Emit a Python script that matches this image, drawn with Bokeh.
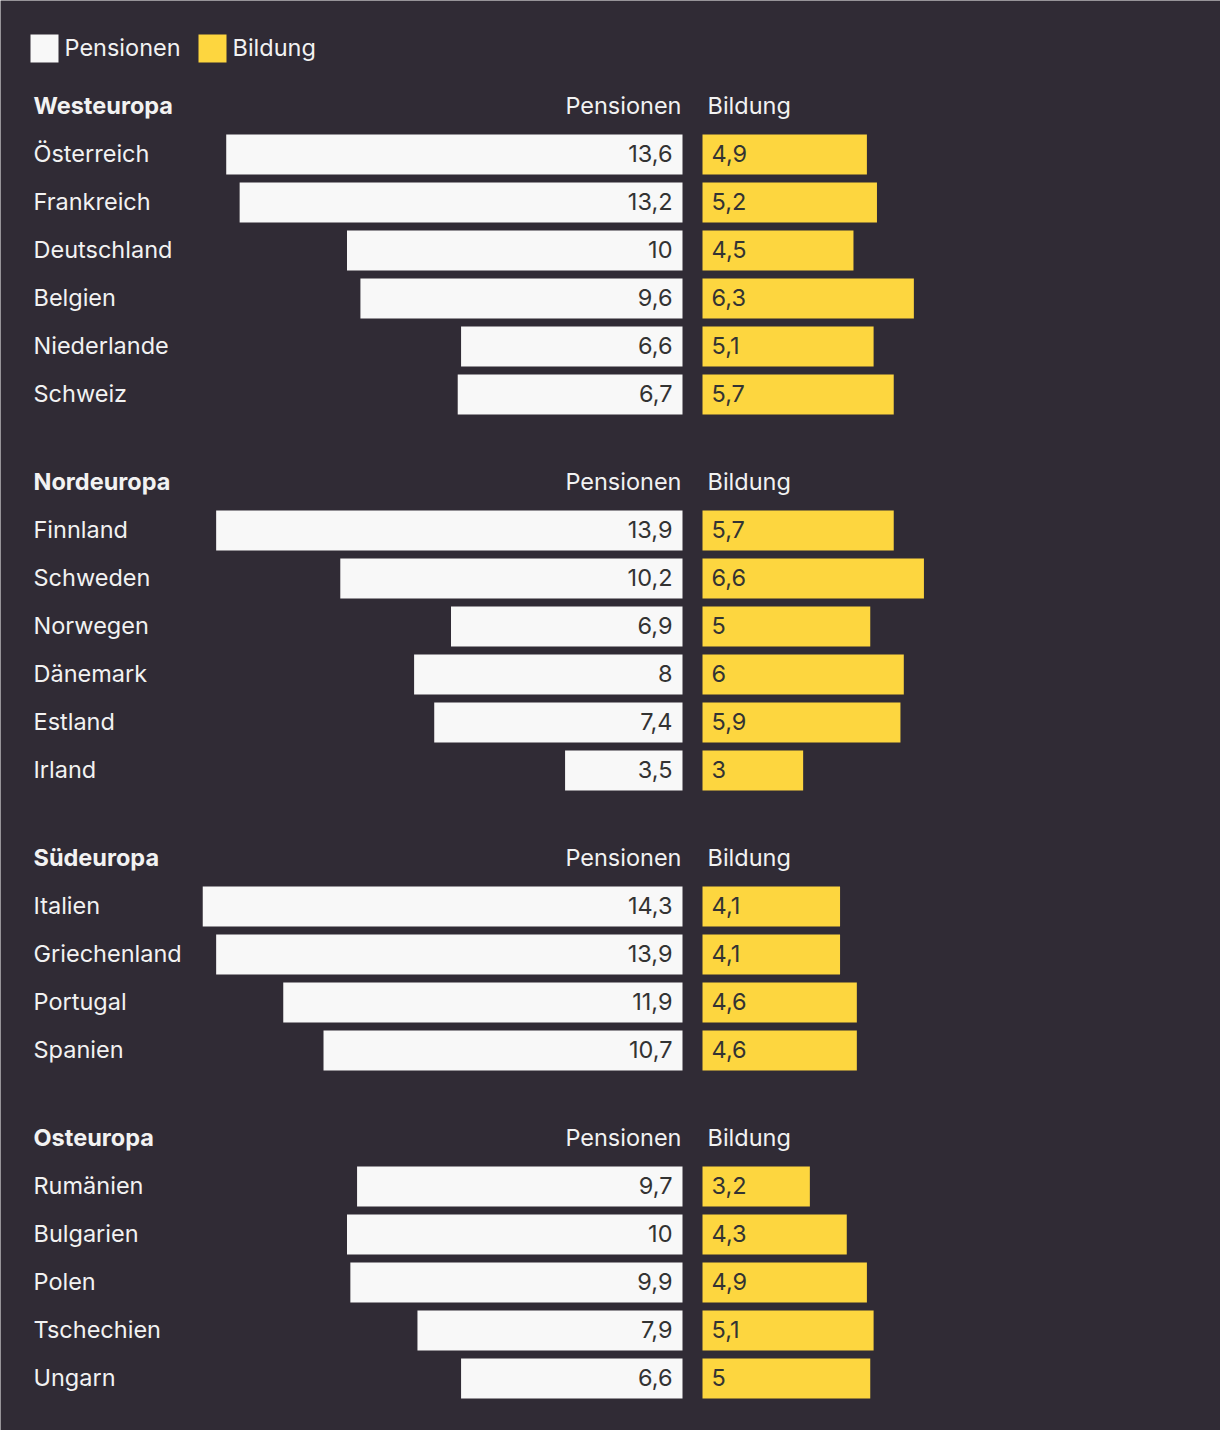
from bokeh.plotting import figure
from bokeh.models import Range1d, ColumnDataSource
from bokeh.core.properties import value
from bokeh.embed import file_html
from bokeh.resources import INLINE

# ---- data ----
groups = ["Westeuropa", "Nordeuropa", "Südeuropa", "Osteuropa"]
west_countries = ["Österreich", "Frankreich", "Deutschland", "Belgien", "Niederlande", "Schweiz"]
west_pension = [13.6, 13.2, 10, 9.6, 6.6, 6.7]
west_bildung = [4.9, 5.2, 4.5, 6.3, 5.1, 5.7]
nord_countries = ["Finnland", "Schweden", "Norwegen", "Dänemark", "Estland", "Irland"]
nord_pension = [13.9, 10.2, 6.9, 8, 7.4, 3.5]
nord_bildung = [5.7, 6.6, 5, 6, 5.9, 3]
sued_countries = ["Italien", "Griechenland", "Portugal", "Spanien"]
sued_pension = [14.3, 13.9, 11.9, 10.7]
sued_bildung = [4.1, 4.1, 4.6, 4.6]
ost_countries = ["Rumänien", "Bulgarien", "Polen", "Tschechien", "Ungarn"]
ost_pension = [9.7, 10, 9.9, 7.9, 6.6]
ost_bildung = [3.2, 4.3, 4.9, 5.1, 5]
series_labels = ["Pensionen", "Bildung"]

group_data = [
    (west_countries, west_pension, west_bildung),
    (nord_countries, nord_pension, nord_bildung),
    (sued_countries, sued_pension, sued_bildung),
    (ost_countries, ost_pension, ost_bildung),
]

# ---- style / layout ----
W, H = 1220, 1430
BG = "#302b35"
WHITE = "#f8f8f8"
YELLOW = "#fdd63f"
TXT = "#f2f2f2"
DARK = "#333333"
FONT = "Inter"
FS = "23.5px"
S = 33.55         # px per unit
CX = 692          # canvas px of centre of the gap
G = 10 / S        # half gap in units
ROW = 48
BAR_H = 40
YO = -1           # text vertical nudge (screen px)

def X(px):
    return (px - CX) / S

p = figure(width=W, height=H, output_backend="svg", toolbar_location=None,
           x_range=Range1d(X(0), X(W)), y_range=Range1d(H, 0),
           min_border=0, background_fill_color=BG, border_fill_color=BG,
           outline_line_color=None)
p.xaxis.visible = False
p.yaxis.visible = False
p.xgrid.visible = False
p.ygrid.visible = False

# legend
leg_y = 48
p.rect(x=[X(44), X(212)], y=[leg_y, leg_y], width=28, height=28,
       width_units="screen", height_units="screen",
       fill_color=[WHITE, YELLOW], line_color=None)
p.text(x=[X(64), X(232)], y=[leg_y, leg_y], y_offset=YO, text=series_labels,
       text_font=value(FONT), text_font_size=FS, text_color=TXT,
       text_baseline="middle", text_align="left")

# rows
rows = dict(y=[], name=[], pen=[], bil=[], pen_left=[], bil_right=[], pen_lab=[], bil_lab=[])
heads = dict(y=[], name=[])
y = 106
for gname, (cs, pv, bv) in zip(groups, group_data):
    heads["y"].append(y)
    heads["name"].append(gname)
    for i, c in enumerate(cs):
        yy = y + ROW * (i + 1)
        rows["y"].append(yy)
        rows["name"].append(c)
        rows["pen"].append(pv[i])
        rows["bil"].append(bv[i])
        rows["pen_left"].append(-pv[i] - G)
        rows["bil_right"].append(bv[i] + G)
        rows["pen_lab"].append(f"{pv[i]:g}".replace(".", ","))
        rows["bil_lab"].append(f"{bv[i]:g}".replace(".", ","))
    y = y + ROW * len(cs) + 88

src = ColumnDataSource(rows)
hsrc = ColumnDataSource(heads)

p.hbar(y="y", left="pen_left", right=-G, height=BAR_H, source=src,
       fill_color=WHITE, line_color=None)
p.hbar(y="y", left=G, right="bil_right", height=BAR_H, source=src,
       fill_color=YELLOW, line_color=None)

p.text(x=X(33), y="y", y_offset=YO, text="name", source=src, text_font=value(FONT),
       text_font_size=FS, text_color=TXT, text_baseline="middle", text_align="left")
p.text(x=-G, y="y", x_offset=-10, y_offset=YO, text="pen_lab", source=src, text_font=value(FONT),
       text_font_size=FS, text_color=DARK, text_baseline="middle", text_align="right")
p.text(x=G, y="y", x_offset=9, y_offset=YO, text="bil_lab", source=src, text_font=value(FONT),
       text_font_size=FS, text_color=DARK, text_baseline="middle", text_align="left")

# group headers
p.text(x=X(33), y="y", y_offset=YO, text="name", source=hsrc, text_font=value(FONT),
       text_font_size=FS, text_font_style="bold", text_color=TXT,
       text_baseline="middle", text_align="left")
p.text(x=-G, y="y", x_offset=-1, y_offset=YO, text=value(series_labels[0]), source=hsrc,
       text_font=value(FONT), text_font_size=FS, text_color=TXT,
       text_baseline="middle", text_align="right")
p.text(x=G, y="y", x_offset=5, y_offset=YO, text=value(series_labels[1]), source=hsrc,
       text_font=value(FONT), text_font_size=FS, text_color=TXT,
       text_baseline="middle", text_align="left")

open("out.html", "w").write(file_html(p, INLINE))
